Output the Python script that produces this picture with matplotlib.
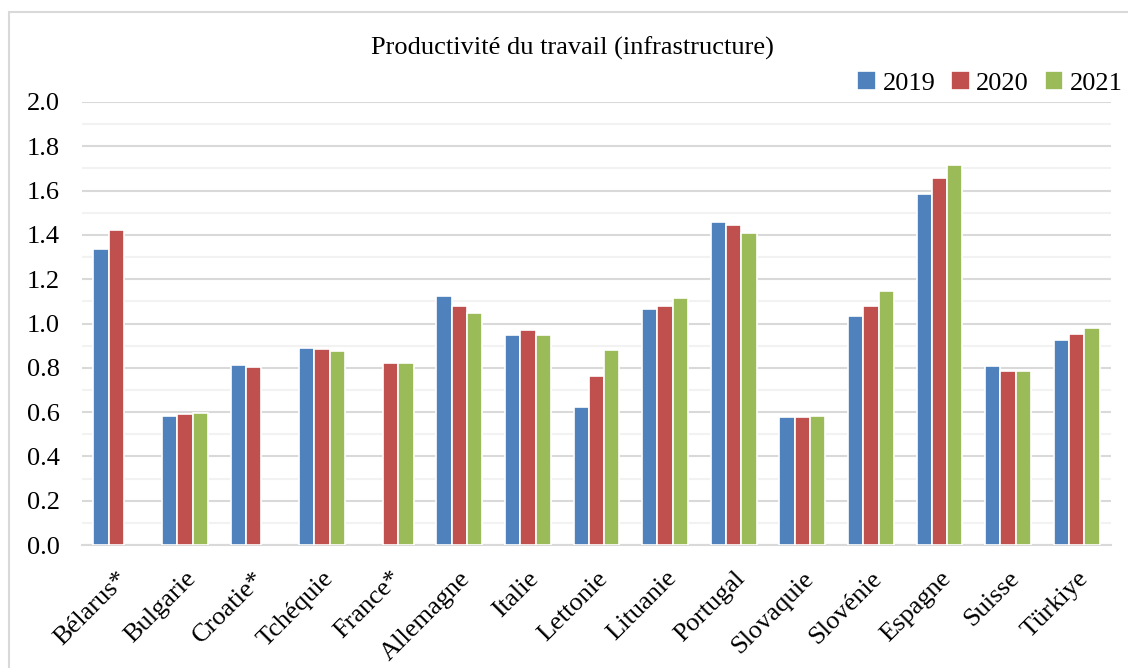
import matplotlib.pyplot as plt
import numpy as np
from matplotlib.patches import Rectangle

pays = ["Bélarus*", "Bulgarie", "Croatie*", "Tchéquie", "France*", "Allemagne",
        "Italie", "Lettonie", "Lituanie", "Portugal", "Slovaquie", "Slovénie",
        "Espagne", "Suisse", "Türkiye"]
annees = ["2019", "2020", "2021"]
v2019 = [1.337, 0.584, 0.811, 0.890, np.nan, 1.125, 0.946, 0.624, 1.066, 1.460,
         0.580, 1.035, 1.585, 0.807, 0.925]
v2020 = [1.424, 0.590, 0.805, 0.885, 0.822, 1.078, 0.970, 0.763, 1.080, 1.446,
         0.579, 1.078, 1.658, 0.786, 0.952]
v2021 = [np.nan, 0.594, np.nan, 0.875, 0.822, 1.047, 0.950, 0.881, 1.116, 1.410,
         0.582, 1.148, 1.716, 0.786, 0.979]
couleurs = ["#4F81BD", "#C0504D", "#9BBB59"]

plt.rcParams['font.family'] = ['Liberation Serif', 'DejaVu Serif']

fig = plt.figure(figsize=(11.28, 6.68), dpi=100)
ax = fig.add_axes([82 / 1128, 1 - 545 / 668, (1111 - 82) / 1128, (545 - 102) / 668])

# cadre gris autour du graphique
fig.patches.append(Rectangle((9 / 1128, -0.1), 1.2, 1 - 12 / 668 + 0.1,
                             transform=fig.transFigure, fill=False,
                             edgecolor="#D9D9D9", linewidth=1.5))

x = np.arange(len(pays))
largeur = 0.223
for k, (serie, c, lab) in enumerate(zip([v2019, v2020, v2021], couleurs, annees)):
    ax.bar(x + (k - 1) * largeur, serie, width=largeur, color=c,
           edgecolor="white", linewidth=1.2, label=lab, zorder=3)

ax.set_xlim(-0.5, len(pays) - 0.5)
ax.set_ylim(0, 2.0)
ax.set_yticks(np.arange(0, 2.01, 0.2))
ax.set_yticklabels([f"{v:.1f}" for v in np.arange(0, 2.01, 0.2)], fontsize=19)
ax.set_yticks(np.arange(0.1, 2.0, 0.2), minor=True)
ax.grid(axis="y", which="major", color="#D9D9D9", linewidth=1.5, zorder=0)
ax.grid(axis="y", which="minor", color="#F2F2F2", linewidth=1.5, zorder=0)
ax.tick_params(axis="both", which="both", length=0)
ax.tick_params(axis="y", pad=16)

ax.set_xticks(x)
ax.set_xticklabels(pays, rotation=45, ha="right", rotation_mode="anchor", fontsize=19)
ax.tick_params(axis="x", pad=16)

for s in ["top", "right", "left"]:
    ax.spines[s].set_visible(False)
ax.spines["bottom"].set_color("#D9D9D9")
ax.spines["bottom"].set_linewidth(1.5)

fig.text(572 / 1128, 1 - 48 / 668, "Productivité du travail (infrastructure)",
         ha="center", va="center", fontsize=19)
ax.legend(loc="center right", bbox_to_anchor=(1128 / 1128, 1 - 83 / 668),
          bbox_transform=fig.transFigure, ncol=3, frameon=False, fontsize=19,
          borderpad=0.1, borderaxespad=0.1,
          handlelength=0.7, handleheight=0.7, handletextpad=0.25, columnspacing=0.6)

fig.savefig("out.png", dpi=100)
